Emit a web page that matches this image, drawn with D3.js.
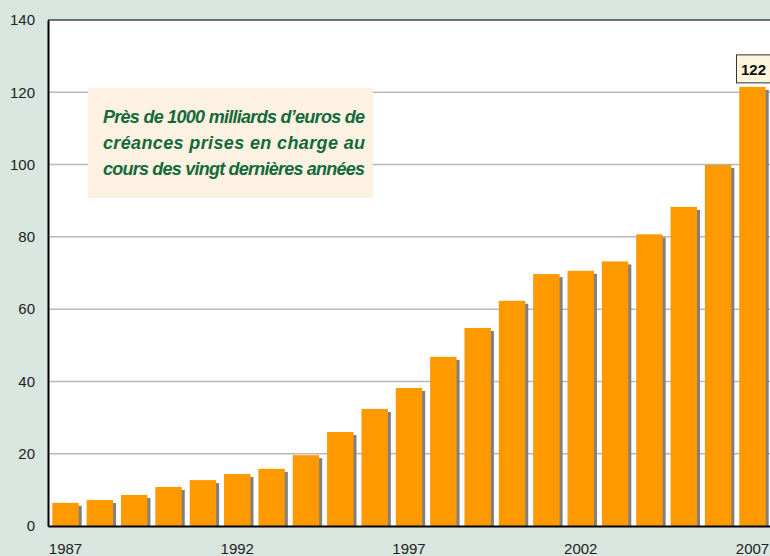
<!DOCTYPE html>
<html>
<head>
<meta charset="utf-8">
<script src="https://cdn.jsdelivr.net/npm/d3@7"></script>
<style>
  body { margin: 0; background: #d9e6df; }
  svg { display: block; }
</style>
</head>
<body>
<div id="chart"></div>
<script>
// data
var years = [1987, 1988, 1989, 1990, 1991, 1992, 1993, 1994, 1995, 1996, 1997,
             1998, 1999, 2000, 2001, 2002, 2003, 2004, 2005, 2006, 2007];
var values = [6.4, 7.2, 8.6, 10.8, 12.7, 14.4, 15.8, 19.6, 26.0, 32.4, 38.2,
              46.8, 54.8, 62.3, 69.7, 70.6, 73.2, 80.7, 88.3, 99.9, 121.5];
var yTicks = [0, 20, 40, 60, 80, 100, 120, 140];
var xTickLabels = [1987, 1992, 1997, 2002, 2007];
var noteLines = ["Près de 1000 milliards d’euros de",
                 "créances prises en charge au",
                 "cours des vingt dernières années"];
var lastLabel = "122";

var svgWidth = 770;
var svgHeight = 556;
var margin = { top: 20, right: 0, bottom: 30, left: 48 };
var width = svgWidth - margin.left - margin.right;
var height = svgHeight - margin.top - margin.bottom;

var svg = d3.select("#chart")
    .append("svg")
    .attr("width", svgWidth)
    .attr("height", svgHeight);

svg.append("rect")
    .attr("width", svgWidth)
    .attr("height", svgHeight)
    .attr("fill", "#d9e6df");

var chartGroup = svg.append("g")
    .attr("transform", `translate(${margin.left}, ${margin.top})`);

var xScale = d3.scaleBand()
    .domain(years)
    .range([0, width])
    .paddingInner(0.23)
    .paddingOuter(0.125);

var yScale = d3.scaleLinear()
    .domain([0, 140])
    .range([height, 0]);

// plot background
chartGroup.append("rect")
    .attr("width", width + 2)
    .attr("height", height)
    .attr("fill", "#ffffff");

// gridlines
chartGroup.selectAll(".grid")
    .data(yTicks.filter(d => d > 0 && d < 140))
    .enter()
    .append("line")
    .attr("x1", 0)
    .attr("x2", width)
    .attr("y1", d => yScale(d))
    .attr("y2", d => yScale(d))
    .attr("stroke", "#b8b8b8")
    .attr("stroke-width", 1.5);

// note box
var noteX = 40, noteY = 68, noteW = 285, noteH = 110;
chartGroup.append("rect")
    .attr("x", noteX)
    .attr("y", noteY)
    .attr("width", noteW)
    .attr("height", noteH)
    .attr("fill", "#fdf2e1");

chartGroup.selectAll(".note")
    .data(noteLines)
    .enter()
    .append("text")
    .attr("x", noteX + 15)
    .attr("y", (d, i) => noteY + 35 + i * 26)
    .attr("textLength", 262)
    .attr("lengthAdjust", "spacing")
    .attr("font-family", "'Liberation Sans Narrow', 'Arial Narrow', Arial, sans-serif")
    .attr("font-size", 18)
    .attr("font-weight", "bold")
    .attr("font-style", "italic")
    .attr("fill", "#13693a")
    .text(d => d);

var data = years.map((y, i) => ({ year: y, value: values[i] }));

// shadows
chartGroup.selectAll(".shadow")
    .data(data)
    .enter()
    .append("rect")
    .attr("x", d => xScale(d.year) + 3)
    .attr("y", d => yScale(d.value) + 3)
    .attr("width", xScale.bandwidth())
    .attr("height", d => height - yScale(d.value) - 3)
    .attr("fill", "#808080");

// bars
chartGroup.selectAll(".bar")
    .data(data)
    .enter()
    .append("rect")
    .attr("x", d => xScale(d.year))
    .attr("y", d => yScale(d.value))
    .attr("width", xScale.bandwidth())
    .attr("height", d => height - yScale(d.value))
    .attr("fill", "#ff9900");

// top border
chartGroup.append("line")
    .attr("x1", 0).attr("x2", width)
    .attr("y1", 0).attr("y2", 0)
    .attr("stroke", "#444")
    .attr("stroke-width", 1.5);

// axes
var leftAxis = d3.axisLeft(yScale).tickValues(yTicks).tickSize(0).tickPadding(13);
var yAxis = chartGroup.append("g").call(leftAxis);
yAxis.select(".domain").attr("stroke", "#000").attr("stroke-width", 2);
yAxis.selectAll("text")
    .attr("font-family", "Arial, 'Liberation Sans', sans-serif")
    .attr("font-size", 15)
    .attr("fill", "#222");

var bottomAxis = d3.axisBottom(xScale).tickValues(xTickLabels).tickSize(0).tickPadding(17);
var xAxis = chartGroup.append("g")
    .attr("transform", `translate(0, ${height})`)
    .call(bottomAxis);
xAxis.select(".domain").attr("stroke", "#000").attr("stroke-width", 2);
xAxis.selectAll("text")
    .attr("font-family", "Arial, 'Liberation Sans', sans-serif")
    .attr("font-size", 15)
    .attr("fill", "#222");

// value label on the last bar
var last = data[data.length - 1];
var lx = xScale(last.year) + xScale.bandwidth() / 2;
var ly = yScale(last.value) - 4;
chartGroup.append("rect")
    .attr("x", lx - 16)
    .attr("y", ly - 28)
    .attr("width", 34)
    .attr("height", 28)
    .attr("fill", "#fdf5dc")
    .attr("stroke", "#333")
    .attr("stroke-width", 1);
chartGroup.append("text")
    .attr("x", lx + 1)
    .attr("y", ly - 8)
    .attr("text-anchor", "middle")
    .attr("font-family", "Arial, 'Liberation Sans', sans-serif")
    .attr("font-size", 15)
    .attr("font-weight", "bold")
    .attr("fill", "#111")
    .text(lastLabel);
</script>
</body>
</html>
